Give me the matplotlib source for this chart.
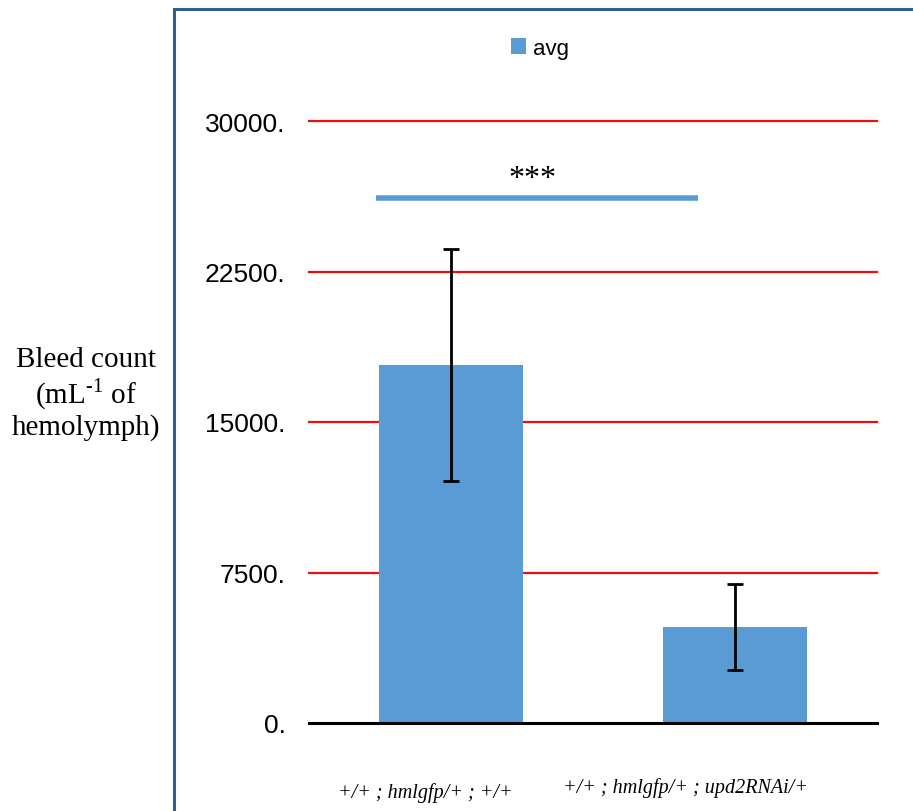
import numpy as np
import matplotlib.pyplot as plt
from matplotlib.patches import Rectangle

# data
genotypes = ['+/+ ; hmlgfp/+ ; +/+', '+/+ ; hmlgfp/+ ; upd2RNAi/+']
avg = [17840, 4780]
err = [5780, 2130]
yticks = [0, 7500, 15000, 22500, 30000]
sig_level = 26160
sig_text = '***'

bar_color = '#5B9BD5'

plt.rcParams['mathtext.fontset'] = 'custom'
plt.rcParams['mathtext.rm'] = 'Liberation Serif'

fig = plt.figure(figsize=(9.13, 8.12), dpi=100)
ax = fig.add_axes([309/913, 88/812, (877-309)/913, (724-122)/812])

x = np.arange(len(genotypes))
ax.bar(x, avg, width=0.507, color=bar_color, label='avg', zorder=2)
ax.errorbar(x, avg, yerr=err, fmt='none', ecolor='black', elinewidth=2,
            capsize=6, capthick=2, zorder=3)

ax.set_xlim(-0.5, 1.5)
ax.set_ylim(0, 30000)
ax.set_yticks(yticks)
ax.set_yticklabels([f'{v}.' for v in yticks], fontsize=19,
                   fontfamily='Liberation Sans')
ax.tick_params(axis='y', length=0, pad=17)
ax.set_xticks([])

# red gridlines
for v in yticks[1:]:
    ax.axhline(v, color='#E81010', lw=1.6, zorder=1, clip_on=False)

for s in ['top', 'right', 'left']:
    ax.spines[s].set_visible(False)
ax.spines['bottom'].set_linewidth(2.2)
ax.spines['bottom'].set_color('black')
ax.spines['bottom'].set_zorder(4)

# significance bar
ax.plot([-0.265, 0.87], [sig_level, sig_level], color=bar_color, lw=4,
        solid_capstyle='butt', clip_on=False)
ax.text(0.285, sig_level + 250, sig_text, ha='center', va='bottom',
        fontsize=23, fontfamily='Liberation Serif')

# genotype labels (placed a little left of the bars, like the original)
ax.text(x[0] - 0.09, -3450, genotypes[0], ha='center', va='center',
        fontsize=14.5, fontfamily='Liberation Serif', style='italic')
ax.text(x[1] - 0.175, -3200, genotypes[1], ha='center', va='center',
        fontsize=14.5, fontfamily='Liberation Serif', style='italic')

# y label
fig.text(86/913, 1 - 394/812, 'Bleed count\n(mL$^{\\text{-1}}$ of\nhemolymph)',
         ha='center', va='center', fontsize=21, linespacing=1.12,
         fontfamily='Liberation Serif')

leg = ax.legend(loc='center', bbox_to_anchor=(540/913, 1 - 49/812),
                bbox_transform=fig.transFigure, frameon=False,
                prop={'family': 'Liberation Sans', 'size': 16},
                handlelength=0.7, handleheight=0.7, handletextpad=0.3)

# chart frame
fig.add_artist(Rectangle((174/913, -0.1), 1.0, 1.1 - 10/812,
                         transform=fig.transFigure, fill=False,
                         edgecolor='#2F5F8F', lw=2.2))

fig.savefig('out.png', dpi=100)
